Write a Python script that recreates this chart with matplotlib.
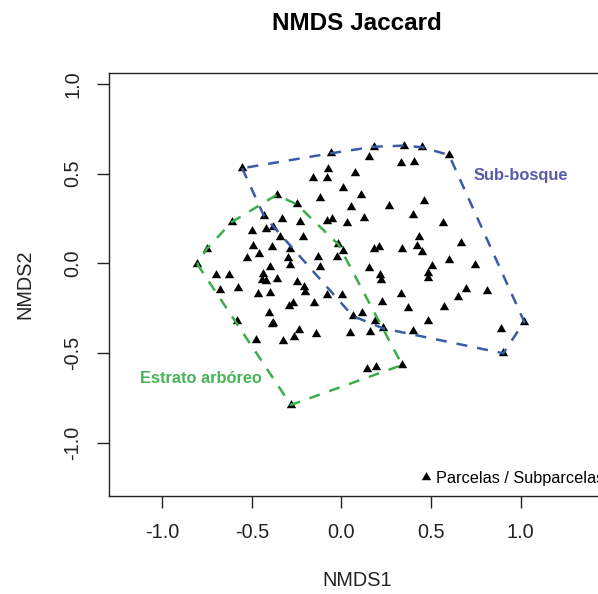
import numpy as np
import matplotlib
matplotlib.use("Agg")
import matplotlib.pyplot as plt
from matplotlib.lines import Line2D

plt.rcParams['font.family'] = ['Liberation Sans', 'DejaVu Sans']

# ---------------- data (NMDS scores) ----------------
group_names = ["Estrato arbóreo", "Sub-bosque"]

arb_x = [-0.805, -0.752, -0.613, -0.362, -0.250, -0.334, -0.498, -0.423, -0.381, -0.232,
         -0.216, -0.342, -0.492, -0.390, -0.285, -0.458, -0.525, -0.297, -0.285, -0.401,
         -0.702, -0.626, -0.678, -0.578, -0.435, -0.444, -0.423, -0.362, -0.246, -0.468,
         -0.397, -0.209, -0.201, -0.269, -0.294, -0.405, -0.381, -0.390, -0.585, -0.237,
         -0.263, -0.328, -0.477, -0.282, -0.018, -0.129, -0.120, -0.083, -0.152, -0.142,
         0.047, 0.159, 0.141, 0.193, 0.339]
arb_y = [-0.004, 0.080, 0.229, 0.381, 0.329, 0.245, 0.182, 0.190, 0.201, 0.230,
         0.148, 0.147, 0.096, 0.091, 0.079, 0.053, 0.030, 0.030, -0.012, -0.021,
         -0.065, -0.065, -0.149, -0.139, -0.060, -0.095, -0.099, -0.088, -0.105, -0.174,
         -0.167, -0.135, -0.160, -0.223, -0.241, -0.276, -0.331, -0.339, -0.320, -0.372,
         -0.409, -0.433, -0.428, -0.790, 0.106, 0.037, -0.022, -0.177, -0.220, -0.396,
         -0.390, -0.385, -0.591, -0.580, -0.567]

sub_x = [-0.432, -0.554, -0.060, 0.181, 0.350, 0.448, 0.600, 0.155, 0.330, 0.405,
         -0.074, -0.157, -0.083, 0.075, 0.010, 0.107, -0.120, 0.053, 0.265, 0.401,
         -0.083, -0.051, 0.032, 0.127, -0.027, 0.010, 0.181, 0.209, 0.339, 0.432,
         0.420, 0.448, 0.155, 0.462, 0.565, 0.665, 0.600, 0.745, 0.503, 0.484,
         0.484, 0.215, 0.220, 0.004, 0.330, 0.228, 0.373, 0.113, 0.063, 0.187,
         0.233, 0.402, 0.693, 0.810, 0.652, 0.574, 0.481, 1.020, 0.888, 0.903]
sub_y = [0.264, 0.530, 0.613, 0.650, 0.656, 0.647, 0.604, 0.591, 0.561, 0.567,
         0.524, 0.474, 0.474, 0.505, 0.422, 0.381, 0.363, 0.316, 0.321, 0.269,
         0.236, 0.247, 0.223, 0.254, 0.037, 0.069, 0.080, 0.089, 0.080, 0.145,
         0.096, 0.065, -0.028, 0.347, 0.223, 0.115, 0.018, -0.009, -0.013, -0.052,
         -0.084, -0.065, -0.093, -0.177, -0.171, -0.214, -0.248, -0.276, -0.294, -0.320,
         -0.363, -0.376, -0.145, -0.153, -0.190, -0.245, -0.320, -0.326, -0.368, -0.502]

xtick_vals = [-1.0, -0.5, 0.0, 0.5, 1.0]
xtick_labels = ["-1.0", "-0.5", "0.0", "0.5", "1.0"]
ytick_vals = [-1.0, -0.5, 0.0, 0.5, 1.0]
ytick_labels = ["-1.0", "-0.5", "0.0", "0.5", "1.0"]


def convex_hull(xs, ys):
    pts = sorted(set(zip(xs, ys)))

    def cross(o, a, b):
        return (a[0] - o[0]) * (b[1] - o[1]) - (a[1] - o[1]) * (b[0] - o[0])

    lower, upper = [], []
    for p in pts:
        while len(lower) >= 2 and cross(lower[-2], lower[-1], p) <= 0:
            lower.pop()
        lower.append(p)
    for p in reversed(pts):
        while len(upper) >= 2 and cross(upper[-2], upper[-1], p) <= 0:
            upper.pop()
        upper.append(p)
    hull = lower[:-1] + upper[:-1]
    hull.append(hull[0])
    return np.array(hull)


# ---------------- figure ----------------
W, H = 598, 594
fig = plt.figure(figsize=(W / 100, H / 100), dpi=100)
ax_l, ax_r, ax_t, ax_b = 109.0, 604.5, 73.0, 495.7
ax = fig.add_axes([ax_l / W, 1 - ax_b / H, (ax_r - ax_l) / W, (ax_b - ax_t) / H])

ax.set_xlim(-1.297, 1.468)
ax.set_ylim(-1.296, 1.061)

tri = [(0.0, 0.5), (-0.433, -0.25), (0.433, -0.25)]
msize = 7.8
ax.plot(arb_x, arb_y, ls='none', marker=tri, markersize=msize, color='black',
        markeredgewidth=0, zorder=3)
ax.plot(sub_x, sub_y, ls='none', marker=tri, markersize=msize, color='black',
        markeredgewidth=0, zorder=3)

green_line = '#3AAF48'
blue_line = '#3A5BA8'
for gx, gy, col in [(arb_x, arb_y, green_line), (sub_x, sub_y, blue_line)]:
    h = convex_hull(gx, gy)
    ax.plot(h[:, 0], h[:, 1], color=col, lw=1.8, ls=(0, (4.4, 4.0)), zorder=4)

ax.text(1.0, 0.49, group_names[1], color='#5A5AAC', fontsize=11.8,
        fontweight='bold', ha='center', va='center', zorder=5)
ax.text(-0.784, -0.641, group_names[0], color='#48B45A', fontsize=11.8,
        fontweight='bold', ha='center', va='center', zorder=5)

# axes style (R base graphics look)
for s in ax.spines.values():
    s.set_linewidth(1.0)
    s.set_color('#222222')
ax.set_xticks(xtick_vals)
ax.set_xticklabels(xtick_labels)
ax.set_yticks(ytick_vals)
ax.set_yticklabels(ytick_labels, rotation=90, va='center')
ax.tick_params(axis='both', direction='out', length=8.6, width=1.0,
               colors='#222222', labelsize=14.3)
ax.tick_params(axis='x', pad=11.4)
ax.tick_params(axis='y', pad=10.4)

fig.text(357 / W, 1 - 580 / H, 'NMDS1', ha='center', va='center', fontsize=14.3,
         color='#222222')
fig.text(25 / W, 1 - 284 / H, 'NMDS2', ha='center', va='center', fontsize=14.3,
         rotation=90, color='#222222')
fig.text(357 / W, 1 - 23.3 / H, 'NMDS Jaccard', ha='center', va='center',
         fontsize=17.5, fontweight='bold', color='black')

handle = Line2D([], [], ls='none', marker=tri, markersize=msize, color='black',
                markeredgewidth=0)
ax.legend([handle], ['Parcelas / Subparcelas'], loc='center left',
          bbox_to_anchor=(419.2 / W, 1 - 478 / H), bbox_transform=fig.transFigure,
          frameon=False, fontsize=11.7, handlelength=0.8, handletextpad=0.23,
          borderpad=0, borderaxespad=0)

fig.savefig('out.png', dpi=100)
